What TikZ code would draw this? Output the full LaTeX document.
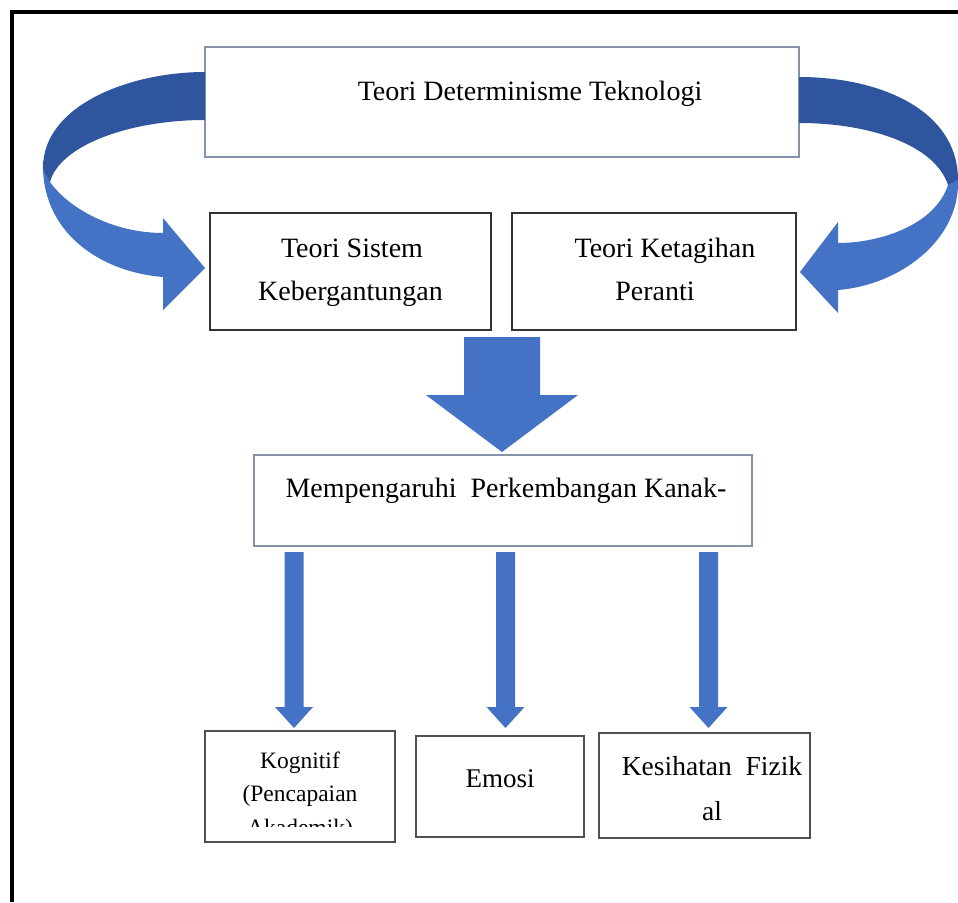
\documentclass[tikz,border=0pt]{standalone}
\usepackage{fontspec}
\setmainfont{Liberation Serif}
\begin{document}
\begin{tikzpicture}[x=1pt,y=-1pt,
  boxblue/.style={draw=boxgrey, line width=1.3pt, fill=white, inner sep=0pt},
  boxdark/.style={draw=boxblack, line width=1.5pt, fill=white, inner sep=0pt},
  boxbot/.style={draw=boxmid, line width=2pt, fill=white, inner sep=0pt},
  txt/.style={font=\fontsize{28}{33}\selectfont, inner sep=0pt, anchor=base},
  txtsm/.style={font=\fontsize{23.5}{33}\selectfont, inner sep=0pt, anchor=base},
  lightarrow/.style={fill=arrowblue},
  darkarrow/.style={fill=arrowdark}]
\definecolor{arrowblue}{HTML}{4472C4}
\definecolor{arrowdark}{HTML}{2F559E}
\definecolor{boxgrey}{HTML}{8592AA}
\definecolor{boxblack}{HTML}{333333}
\definecolor{boxmid}{HTML}{505050}
\useasboundingbox (0,0) rectangle (958,902);
\fill[white] (0,0) rectangle (958,902);
% frame
\draw[line width=4pt] (11.5,902) -- (11.5,11.5) -- (958,11.5);
% boxes
\node[boxblue, minimum width=594pt, minimum height=110pt] (top) at (502,102) {};
\node[boxdark, minimum width=281pt, minimum height=117pt] (left) at (350.5,271.5) {};
\node[boxdark, minimum width=284pt, minimum height=117pt] (right) at (654,271.5) {};
\node[boxblue, minimum width=498pt, minimum height=91pt] (mid) at (503,500.5) {};
\node[boxbot, minimum width=190pt, minimum height=111pt] (kog) at (300,786.5) {};
\node[boxbot, minimum width=168pt, minimum height=101pt] (emo) at (499.5,786.5) {};
\node[boxbot, minimum width=211pt, minimum height=105pt] (kes) at (704.5,785.5) {};
% curved arrow left
\fill[lightarrow] (43,160) .. controls (40,232) and (100,272) .. (163,277) -- (163,310) -- (205,268) -- (163,218) -- (163,233) .. controls (115,233) and (70,210) .. (50,182) -- cycle;
\fill[darkarrow] (205,72) .. controls (130,72) and (43,105) .. (43,168) -- (50,182) .. controls (60,145) and (130,120) .. (205,120) -- cycle;
% curved arrow right
\fill[lightarrow] (958,180) .. controls (960,240) and (900,285) .. (838,290) -- (838,313) -- (800,272) -- (838,222) -- (838,243) .. controls (880,243) and (935,225) .. (948,185) -- cycle;
\fill[darkarrow] (799,77) .. controls (880,77) and (958,110) .. (958,180) -- (948,185) .. controls (935,145) and (870,123) .. (799,123) -- cycle;
% big down arrow
\fill[lightarrow] (464,337) -- (540,337) -- (540,395) -- (578,395) -- (502,452) -- (426,395) -- (464,395) -- cycle;
% small arrows
\foreach \cx in {294,505.5,708.5}{
  \fill[lightarrow] ({\cx-9.5},552) -- ({\cx+9.5},552) -- ({\cx+9.5},707) -- ({\cx+19},707) -- (\cx,728) -- ({\cx-19},707) -- ({\cx-9.5},707) -- cycle;
}
% texts
\node[txt] (ttop) at (530,100) {Teori Determinisme Teknologi};
\node[txt] (tl1) at (352,257) {Teori Sistem};
\node[txt] (tl2) at (350.5,300) {Kebergantungan};
\node[txt] (tr1) at (665,257) {Teori Ketagihan};
\node[txt] (tr2) at (655,300) {Peranti};
\node[txt] (tmid) at (506,497) {Mempengaruhi~ Perkembangan Kanak-};
\node[txtsm] (tk1) at (300,768) {Kognitif};
\node[txtsm] (tk2) at (300,801) {(Pencapaian};
\begin{scope}
\clip (206,812) rectangle (394,826);
\node[txtsm] (tk3) at (300,835) {Akademik)};
\end{scope}
\node[txt, font=\fontsize{27}{33}\selectfont] (te) at (500,787) {Emosi};
\node[txt, font=\fontsize{27.5}{33}\selectfont] (tf1) at (712,775) {Kesihatan~ Fizik};
\node[txt, font=\fontsize{27.5}{33}\selectfont] (tf2) at (712,820) {al};
\end{tikzpicture}
\end{document}
